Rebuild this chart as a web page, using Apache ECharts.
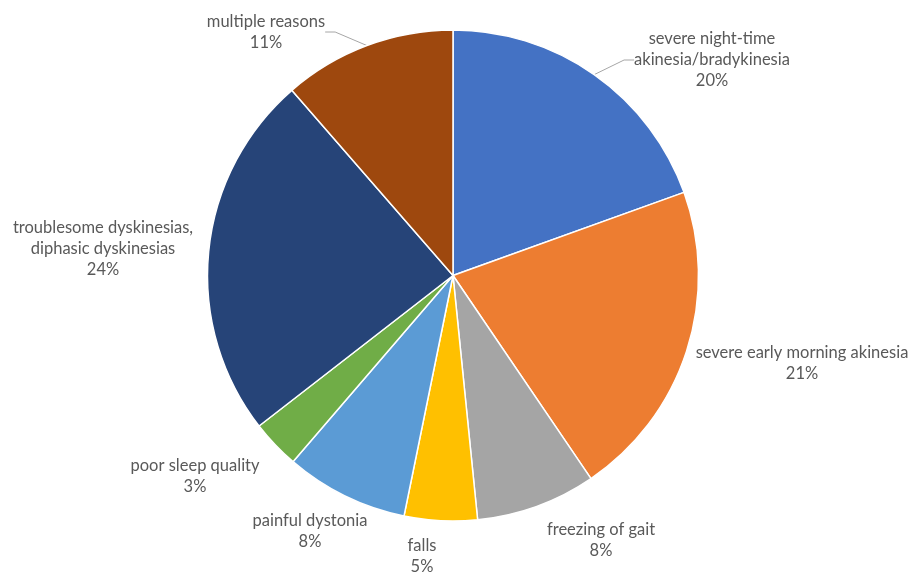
<!DOCTYPE html>
<html><head><meta charset="utf-8">
<script src="https://cdn.jsdelivr.net/npm/echarts@6/dist/echarts.min.js"></script>
<style>html,body{margin:0;padding:0;background:#fff}#c{width:916px;height:573px}</style>
</head><body><div id="c"></div>
<script>
const categories = [
  'severe night-time\nakinesia/bradykinesia',
  'severe early morning akinesia',
  'freezing of gait',
  'falls',
  'painful dystonia',
  'poor sleep quality',
  'troublesome dyskinesias,\ndiphasic dyskinesias',
  'multiple reasons'
];
const values = [19.5, 21.0, 7.9, 4.8, 8.1, 3.2, 24.1, 11.4];
const colors = ['#4472C4','#ED7D31','#A5A5A5','#FFC000','#5B9BD5','#70AD47','#264478','#9E480E'];
const showLeader = [true, false, false, false, false, false, false, true];
// label block centres
const labelPos = [[712,60],[802,363],[601,540],[422,556],[310,531],[195,476],[103,249],[266,32]];

const chart = echarts.init(document.getElementById('c'));
chart.setOption({
  animation: false,
  series: [{
    type: 'pie',
    center: [453, 275.5],
    radius: [0, 245.5],
    startAngle: 90,
    clockwise: true,
    percentPrecision: 0,
    avoidLabelOverlap: false,
    itemStyle: { borderColor: '#fff', borderWidth: 1.5 },
    label: {
      show: true,
      formatter: '{b}\n{d}%',
      color: '#595959',
      fontFamily: 'Lato',
      fontSize: 16.5,
      lineHeight: 21,
      align: 'center'
    },
    labelLine: { show: true, length: 10, length2: 10, lineStyle: { color: '#A6A6A6', width: 1 } },
    labelLayout: function (p) {
      const pos = labelPos[p.dataIndex];
      return { x: pos[0], y: pos[1], align: 'center', verticalAlign: 'middle' };
    },
    data: categories.map((c, i) => ({
      name: c,
      value: values[i],
      itemStyle: { color: colors[i] },
      labelLine: { show: showLeader[i] }
    }))
  }]
});
</script></body></html>
